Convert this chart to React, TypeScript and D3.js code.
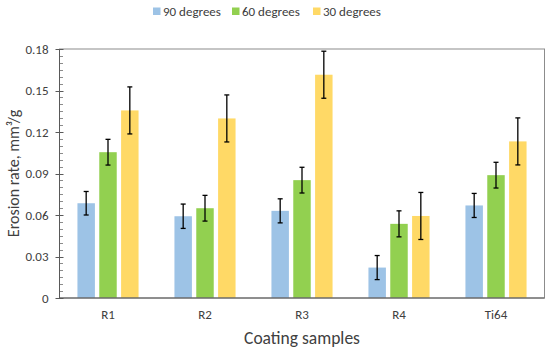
import React, { useEffect, useRef } from "react";
import * as d3 from "d3";

const samples = ["R1", "R2", "R3", "R4", "Ti64"];
const seriesNames = ["90 degrees", "60 degrees", "30 degrees"];
const seriesColors = ["#9DC3E6", "#92D050", "#FFD966"];

const rate90 = [0.0685, 0.0591, 0.063, 0.022, 0.0669];
const rate60 = [0.1054, 0.0649, 0.0852, 0.0536, 0.0888];
const rate30 = [0.1356, 0.1298, 0.1614, 0.0593, 0.1132];

const err90 = [0.0085, 0.0088, 0.0087, 0.0087, 0.0087];
const err60 = [0.0093, 0.0093, 0.0093, 0.0094, 0.0093];
const err30 = [0.017, 0.017, 0.017, 0.017, 0.017];

const yTicks = [0, 0.03, 0.06, 0.09, 0.12, 0.15, 0.18];

const width = 550;
const height = 350;
const margin = { top: 49, right: 5.5, bottom: 52, left: 59.5 };
const font = "Carlito, Calibri, 'Open Sans', sans-serif";

const App: React.FC = () => {
	const svgRef = useRef<SVGSVGElement | null>(null);

	useEffect(() => {
		const svg = d3.select(svgRef.current);
		svg.selectAll("*").remove();

		const values = [rate90, rate60, rate30];
		const errors = [err90, err60, err30];

		const x0 = d3
			.scaleBand()
			.domain(samples)
			.range([margin.left, width - margin.right])
			.paddingInner(0.37)
			.paddingOuter(0.185);

		const x1 = d3
			.scaleBand()
			.domain(seriesNames)
			.range([0, x0.bandwidth()])
			.paddingInner(0.2);

		const y = d3
			.scaleLinear()
			.domain([0, 0.18])
			.range([height - margin.bottom, margin.top]);

		// bars
		seriesNames.forEach((s, si) => {
			svg.append("g")
				.selectAll("rect")
				.data(samples)
				.enter()
				.append("rect")
				.attr("x", (d) => (x0(d) as number) + (x1(s) as number))
				.attr("y", (_, i) => y(values[si][i]))
				.attr("width", x1.bandwidth())
				.attr("height", (_, i) => y(0) - y(values[si][i]))
				.attr("fill", seriesColors[si]);
		});

		// error bars
		seriesNames.forEach((s, si) => {
			const g = svg.append("g");
			samples.forEach((d, i) => {
				const cx = (x0(d) as number) + (x1(s) as number) + x1.bandwidth() / 2;
				const hi = y(values[si][i] + errors[si][i]);
				const lo = y(values[si][i] - errors[si][i]);
				g.append("line")
					.attr("x1", cx).attr("x2", cx)
					.attr("y1", hi).attr("y2", lo)
					.attr("stroke", "#000").attr("stroke-width", 1.3);
				[hi, lo].forEach((v) => {
					g.append("line")
						.attr("x1", cx - 2.5).attr("x2", cx + 2.5)
						.attr("y1", v).attr("y2", v)
						.attr("stroke", "#000").attr("stroke-width", 1.3);
				});
			});
		});

		// frame
		svg.append("rect")
			.attr("x", margin.left)
			.attr("y", margin.top)
			.attr("width", width - margin.left - margin.right)
			.attr("height", height - margin.top - margin.bottom)
			.attr("fill", "none")
			.attr("stroke", "#8C8C8C")
			.attr("stroke-width", 1);

		// y axis
		const minor = d3.range(0, 0.1801, 0.005);
		svg.append("g")
			.selectAll("line")
			.data(minor)
			.enter()
			.append("line")
			.attr("x1", margin.left)
			.attr("x2", margin.left + 3.5)
			.attr("y1", (d) => Math.round(y(d)) + 0.5)
			.attr("y2", (d) => Math.round(y(d)) + 0.5)
			.attr("stroke", "#8C8C8C");

		const yAxis = svg.append("g");
		yAxis.append("line")
			.attr("x1", margin.left).attr("x2", margin.left)
			.attr("y1", y(0)).attr("y2", y(0.18))
			.attr("stroke", "#595959");
		yTicks.forEach((t) => {
			yAxis.append("line")
				.attr("x1", margin.left - 4)
				.attr("x2", margin.left + 4)
				.attr("y1", Math.round(y(t)) + 0.5)
				.attr("y2", Math.round(y(t)) + 0.5)
				.attr("stroke", "#595959");
			yAxis.append("text")
				.attr("x", margin.left - 11)
				.attr("y", y(t))
				.attr("dy", "0.35em")
				.attr("text-anchor", "end")
				.style("font-family", font)
				.style("font-size", "13px")
				.style("fill", "#404040")
				.text(t === 0 ? "0" : t.toFixed(2));
		});

		// x axis bottom line
		svg.append("line")
			.attr("x1", margin.left).attr("x2", width - margin.right)
			.attr("y1", y(0)).attr("y2", y(0))
			.attr("stroke", "#595959");

		svg.append("g")
			.selectAll("text")
			.data(samples)
			.enter()
			.append("text")
			.attr("x", (d) => (x0(d) as number) + x0.bandwidth() / 2)
			.attr("y", 319)
			.attr("text-anchor", "middle")
			.style("font-family", font)
			.style("font-size", "13px")
			.style("fill", "#404040")
			.text((d) => d);

		// axis titles
		svg.append("text")
			.attr("x", (margin.left + width - margin.right) / 2)
			.attr("y", 344)
			.attr("text-anchor", "middle")
			.style("font-family", font)
			.style("font-size", "17.5px")
			.style("fill", "#404040")
			.text("Coating samples");

		svg.append("text")
			.attr("transform", `translate(19, ${(y(0) + y(0.18)) / 2}) rotate(-90)`)
			.attr("text-anchor", "middle")
			.style("font-family", font)
			.style("font-size", "16px")
			.style("fill", "#404040")
			.text("Erosion rate, mm³/g");

		// legend
		const legendX = [153, 232, 313];
		const legend = svg.append("g");
		seriesNames.forEach((s, si) => {
			legend.append("rect")
				.attr("x", legendX[si])
				.attr("y", 7.5)
				.attr("width", 7.5)
				.attr("height", 7.5)
				.attr("fill", seriesColors[si]);
			legend.append("text")
				.attr("x", legendX[si] + 10)
				.attr("y", 11)
				.attr("dy", "0.35em")
				.style("font-family", font)
				.style("font-size", "13px")
				.style("fill", "#404040")
				.text(s);
		});
	}, []);

	return (
		<svg
			ref={svgRef}
			width={width}
			height={height}
			style={{ position: "absolute", left: 0, top: 0, background: "#fff" }}
		></svg>
	);
};

export default App;
